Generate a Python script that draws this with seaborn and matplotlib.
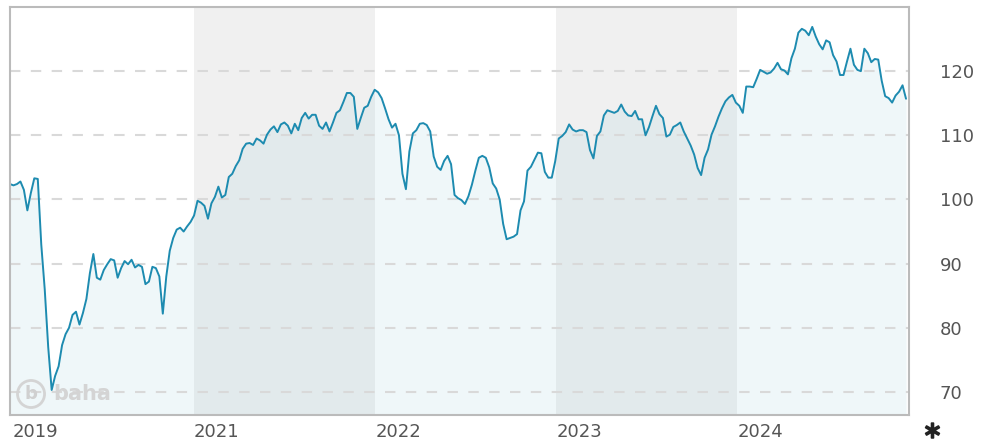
import matplotlib.pyplot as plt
import matplotlib.patheffects as pe
import pandas as pd
import seaborn as sns

# weekly closing values, first week ending 2019-12-27
start_date = "2019-12-27"
values = [
    102.4, 102.2, 102.4, 102.8, 101.5, 98.3, 101.0, 103.3, 103.2, 93.0,
    86.0, 77.0, 70.3, 72.5, 74.0, 77.3, 79.0, 80.0, 82.0, 82.5,
    80.5, 82.3, 84.5, 88.5, 91.5, 87.8, 87.5, 89.0, 89.9, 90.7,
    90.5, 87.8, 89.3, 90.4, 89.9, 90.6, 89.4, 89.8, 89.5, 86.8,
    87.2, 89.5, 89.3, 88.0, 82.2, 88.0, 92.0, 94.0, 95.3, 95.6,
    95.0, 95.8, 96.5, 97.5, 99.8, 99.5, 99.0, 97.0, 99.4, 100.4,
    102.0, 100.3, 100.7, 103.5, 104.0, 105.2, 106.1, 107.9, 108.7, 108.8,
    108.5, 109.5, 109.2, 108.7, 110.1, 110.9, 111.4, 110.5, 111.7, 112.0,
    111.5, 110.3, 111.8, 110.8, 112.7, 113.5, 112.6, 113.2, 113.2, 111.5,
    111.0, 112.0, 110.6, 112.0, 113.5, 113.9, 115.2, 116.6, 116.6, 116.0,
    111.0, 112.7, 114.3, 114.6, 116.0, 117.1, 116.7, 115.8, 114.2, 112.5,
    111.2, 111.8, 110.0, 104.0, 101.6, 107.5, 110.3, 110.8, 111.8, 111.9,
    111.6, 110.6, 106.7, 105.1, 104.6, 106.0, 106.8, 105.5, 100.7, 100.2,
    99.9, 99.3, 100.5, 102.3, 104.5, 106.5, 106.8, 106.5, 105.0, 102.5,
    101.7, 100.0, 96.2, 93.8, 94.0, 94.2, 94.6, 98.3, 99.7, 104.5,
    105.1, 106.2, 107.3, 107.2, 104.3, 103.4, 103.4, 106.0, 109.5, 109.9,
    110.5, 111.7, 110.9, 110.6, 110.8, 110.8, 110.5, 107.7, 106.4, 109.9,
    110.6, 113.1, 113.9, 113.7, 113.5, 113.8, 114.8, 113.7, 113.1, 113.0,
    113.8, 112.5, 112.5, 110.0, 111.3, 113.0, 114.6, 113.3, 112.7, 109.8,
    110.1, 111.3, 111.6, 112.0, 110.6, 109.5, 108.4, 107.0, 104.9, 103.8,
    106.5, 107.8, 110.1, 111.4, 112.9, 114.2, 115.3, 115.9, 116.3, 115.1,
    114.6, 113.5, 117.6, 117.6, 117.5, 118.8, 120.2, 119.9, 119.6, 119.8,
    120.4, 121.3, 120.3, 120.1, 119.5, 122.0, 123.5, 126.0, 126.6, 126.3,
    125.6, 126.9, 125.4, 124.2, 123.4, 124.8, 124.5, 122.5, 121.5, 119.4,
    119.4, 121.5, 123.5, 121.0, 120.2, 120.0, 123.5, 122.8, 121.4, 121.9,
    121.8, 118.5, 116.1, 115.8, 115.1, 116.2, 116.8, 117.8, 115.7,
]

tick_dates = ["2020-01-01", "2021-01-01", "2022-01-01", "2023-01-01", "2024-01-01"]
tick_labels = ["2019", "2021", "2022", "2023", "2024"]
shaded_years = [("2021-01-01", "2022-01-01"), ("2023-01-01", "2024-01-01")]
y_ticks = [70, 80, 90, 100, 110, 120]

df = pd.DataFrame({
    "date": pd.date_range(start_date, periods=len(values), freq="7D"),
    "value": values,
})

sns.set_style("white")
plt.rcParams["font.family"] = ["DejaVu Sans"]

fig = plt.figure(figsize=(10.02, 4.44), dpi=100)
ax = fig.add_axes([0.00998, 0.0653, 0.8972, 0.9189])

y_low, y_high = 66.4, 130.0

for a, b in shaded_years:
    ax.axvspan(pd.Timestamp(a), pd.Timestamp(b), color="#f0f0f0", lw=0, zorder=0.1)

ax.fill_between(df["date"], df["value"], y_low, color=(148 / 255, 202 / 255, 215 / 255),
                alpha=0.15, lw=0, zorder=0.2)
sns.lineplot(data=df, x="date", y="value", ax=ax, color="#1d8bb0", lw=1.4, zorder=2)

ax.set_xlim(pd.Timestamp("2019-12-27"), pd.Timestamp("2024-12-12"))
ax.set_ylim(y_low, y_high)
ax.set_xlabel("")
ax.set_ylabel("")

ax.set_axisbelow(True)
ax.yaxis.grid(True, color="#d9d9d9", linestyle=(0, (5, 5)), lw=1.5)
ax.xaxis.grid(False)

ax.yaxis.tick_right()
ax.set_yticks(y_ticks)
ax.set_yticklabels([str(t) for t in y_ticks])
ax.set_xticks(pd.to_datetime(tick_dates))
ax.set_xticklabels(tick_labels, ha="left")
ax.tick_params(axis="y", length=0, pad=22, labelsize=13, labelcolor="#555555")
ax.tick_params(axis="x", length=0, pad=6, labelsize=13, labelcolor="#555555")

for sp in ax.spines.values():
    sp.set_visible(True)
    sp.set_color("#bbbbbb")
    sp.set_linewidth(1.5)

# baha watermark
ax.text(0.0234, 0.0515, "b", transform=ax.transAxes, fontsize=13, fontweight="bold",
        color="#d0d0d0", ha="center", va="center", zorder=3,
        bbox=dict(boxstyle="circle,pad=0.25", fc="none", ec="#d4d4d4", lw=2))
ax.text(0.0478, 0.0515, "baha", transform=ax.transAxes, fontsize=15, fontweight="bold",
        color="#d4d4d4", ha="left", va="center", zorder=3)

fig.text(932 / 1002, 1 - 431 / 444, r"$\ast$", fontsize=17,
         ha="center", va="center", color="#222222",
         path_effects=[pe.withStroke(linewidth=1.2, foreground="#222222")])

fig.savefig("out.png", dpi=100)
